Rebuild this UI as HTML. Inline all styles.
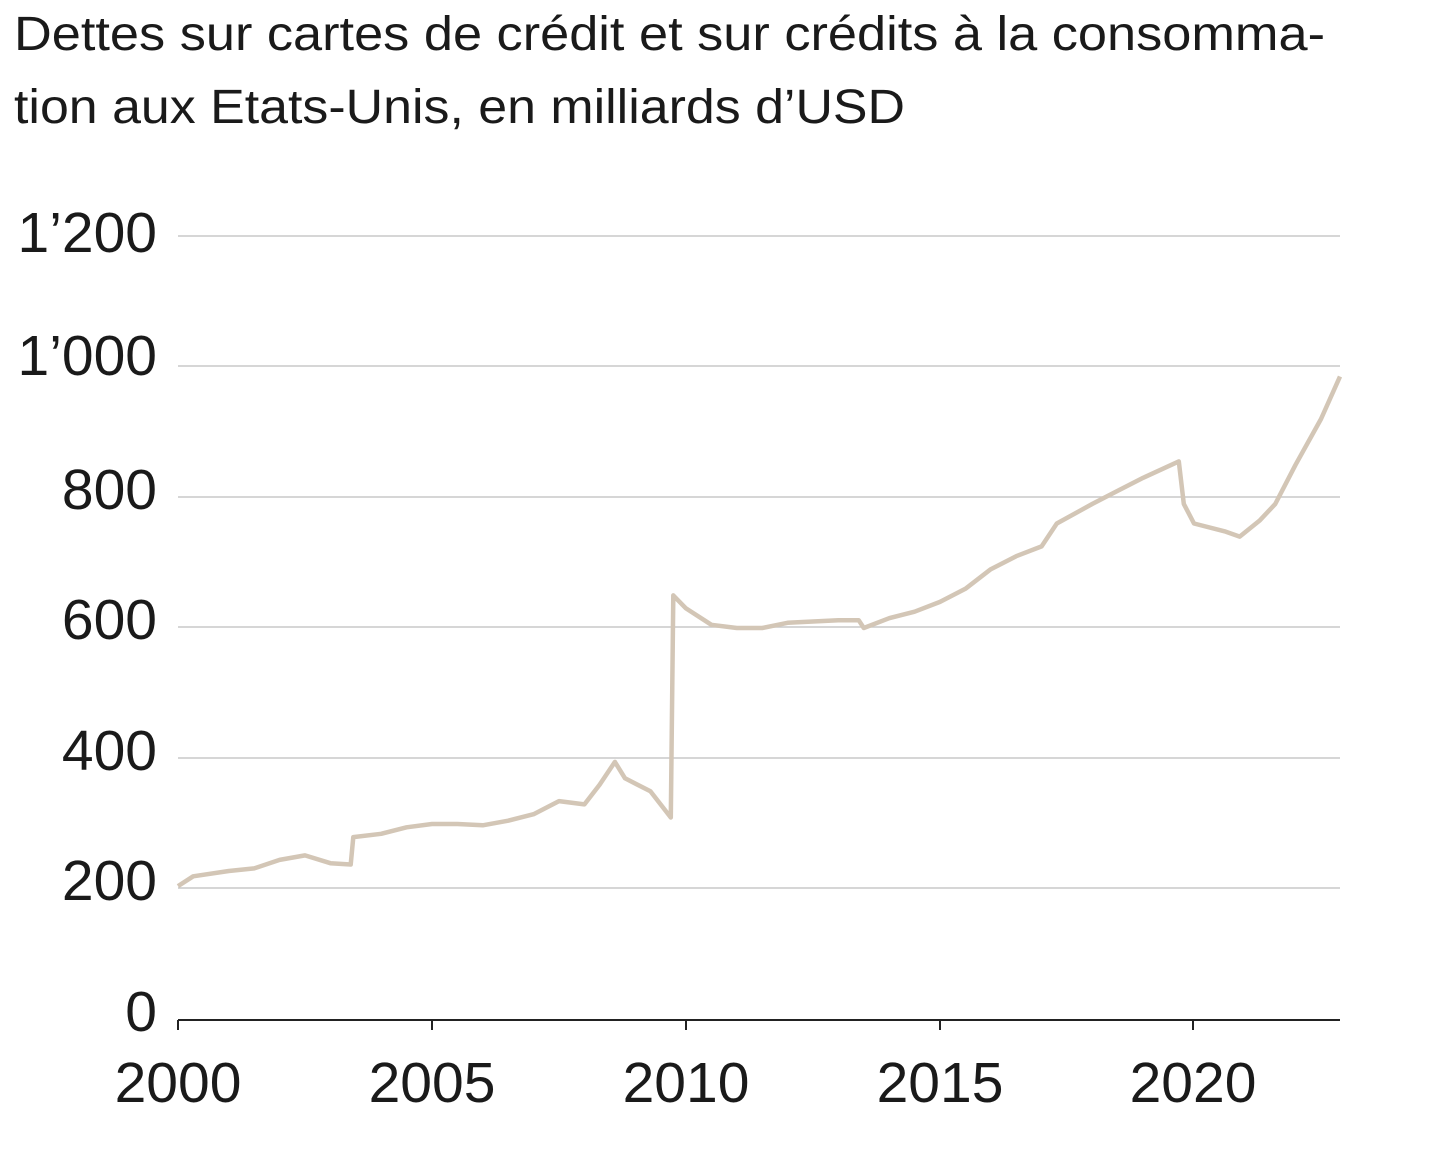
<!DOCTYPE html>
<html><head><meta charset="utf-8"><style>
html,body{margin:0;padding:0;background:#fff;}
svg{display:block;}
text{font-family:"Liberation Sans",sans-serif;fill:#1a1a1a;}
</style></head><body>
<svg width="1440" height="1166" viewBox="0 0 1440 1166" xmlns="http://www.w3.org/2000/svg">
<text x="14" y="50" font-size="48" textLength="1311" lengthAdjust="spacingAndGlyphs">Dettes sur cartes de crédit et sur crédits à la consomma-</text>
<text x="14" y="123" font-size="48" textLength="891" lengthAdjust="spacingAndGlyphs">tion aux Etats-Unis, en milliards d’USD</text>
<g stroke="#c8c8c8" stroke-width="1.5">
<line x1="178" y1="236" x2="1340" y2="236"/>
<line x1="178" y1="366" x2="1340" y2="366"/>
<line x1="178" y1="497" x2="1340" y2="497"/>
<line x1="178" y1="627" x2="1340" y2="627"/>
<line x1="178" y1="758" x2="1340" y2="758"/>
<line x1="178" y1="888" x2="1340" y2="888"/>
</g>
<g stroke="#222" stroke-width="2">
<line x1="178" y1="1020" x2="1340" y2="1020"/>
<line x1="178" y1="1020" x2="178" y2="1030"/>
<line x1="432" y1="1020" x2="432" y2="1030"/>
<line x1="686" y1="1020" x2="686" y2="1030"/>
<line x1="940" y1="1020" x2="940" y2="1030"/>
<line x1="1193" y1="1020" x2="1193" y2="1030"/>
</g>
<g font-size="57" text-anchor="end">
<text x="157" y="252">1’200</text>
<text x="157" y="375">1’000</text>
<text x="157" y="509">800</text>
<text x="157" y="639">600</text>
<text x="157" y="770">400</text>
<text x="157" y="900">200</text>
<text x="157" y="1031">0</text>
</g>
<g font-size="57" text-anchor="middle">
<text x="178" y="1102">2000</text>
<text x="432" y="1102">2005</text>
<text x="686" y="1102">2010</text>
<text x="940" y="1102">2015</text>
<text x="1193" y="1102">2020</text>
</g>
<path fill="none" stroke="#d3c6b6" stroke-width="4.5" stroke-linejoin="round" d="M178,886.1 L193.2,876.3 L228.8,871 L254.2,868.4 L279.6,859.9 L305,855.4 L330.4,863.2 L350.7,864.5 L353.3,837.1 L381.2,833.8 L406.6,827.3 L432,824 L457.4,824 L482.8,825.3 L508.2,820.7 L533.6,814.2 L559,801.1 L584.4,804.4 L599.6,784.8 L614.9,761.9 L625,778.3 L650.4,791.3 L670.8,817.5 L673.3,595.4 L686,608.4 L711.4,624.8 L736.8,628 L762.2,628 L787.6,622.8 L813,621.5 L838.4,620.2 L858.7,620.2 L863.8,628 L889.2,618.2 L914.6,611.7 L940,601.9 L965.4,588.8 L990.8,569.2 L1016.2,556.2 L1041.6,546.4 L1056.8,523.5 L1092.4,503.9 L1117.8,490.8 L1143.2,477.8 L1178.8,461.4 L1183.8,503.9 L1194,523.5 L1224.5,531.3 L1239.7,536.6 L1260,520.2 L1275.3,503.9 L1295.6,464.7 L1321,419 L1340,376.5"/>
</svg>
</body></html>
